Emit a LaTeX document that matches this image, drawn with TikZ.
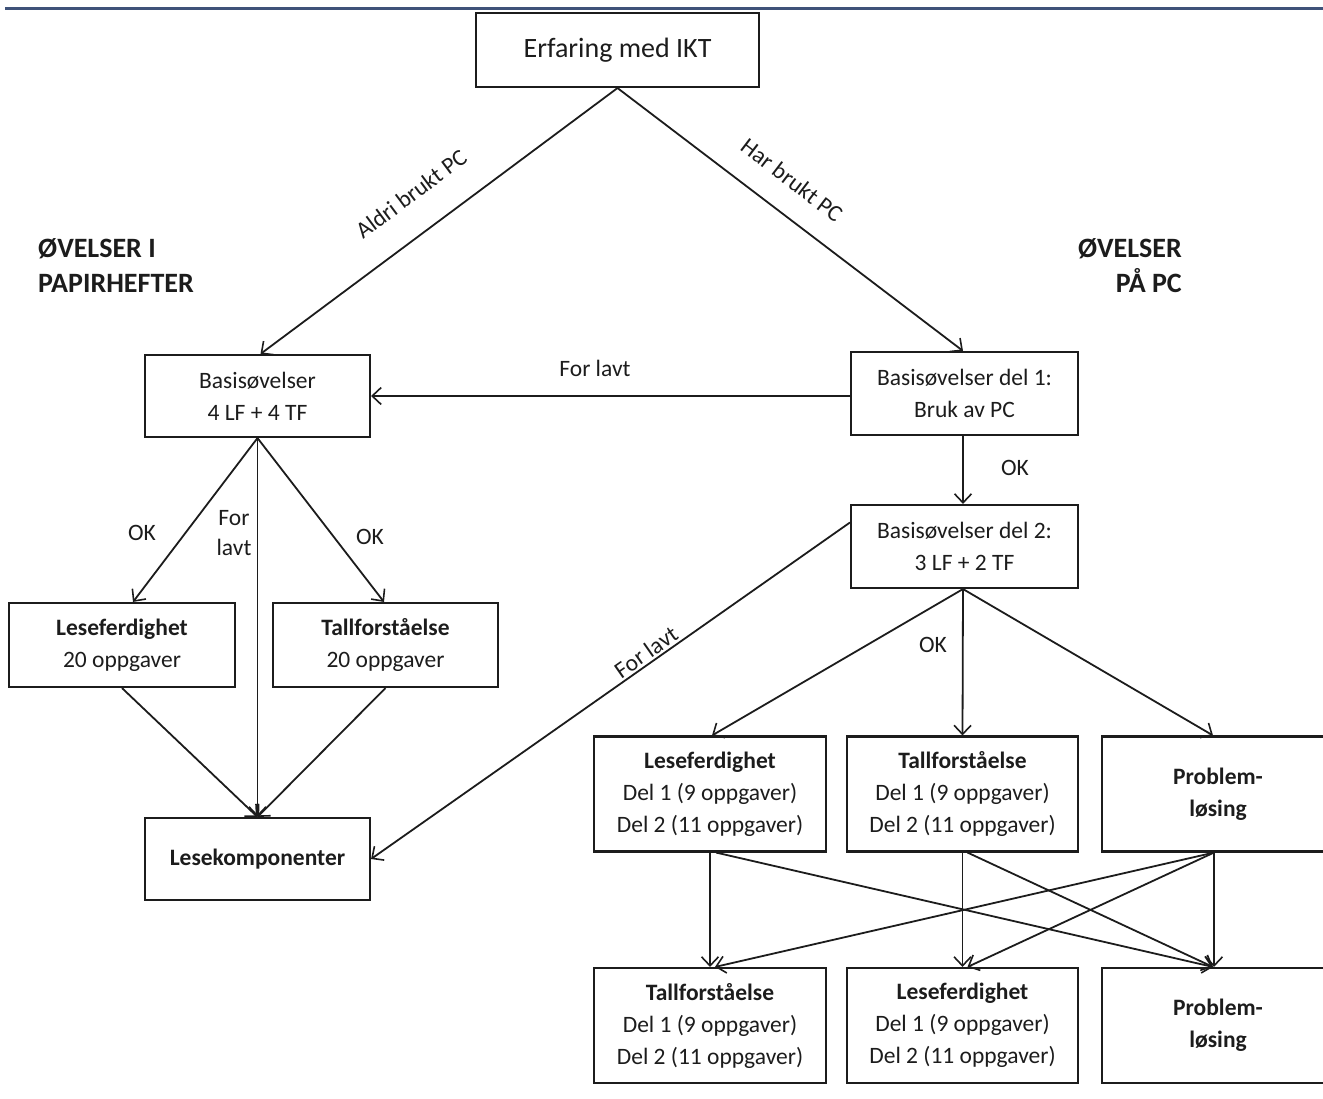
\documentclass[tikz,border=0pt]{standalone}
\usepackage{fontspec}
\setmainfont{Carlito}
\usetikzlibrary{arrows.meta}
\definecolor{hdr}{HTML}{3F5279}
\definecolor{ink}{HTML}{1C1C1C}
\begin{document}
\begin{tikzpicture}[x=1pt,y=-1pt,
  box/.style={draw=ink, line width=2.1pt, inner sep=0pt, align=center, text=ink,
              font=\fontsize{23.5}{32}\selectfont},
  wbox/.style={box, minimum width=227pt, minimum height=83pt},
  tbox/.style={box, minimum width=232pt, minimum height=115pt},
  pbox/.style={box, minimum width=298pt, minimum height=115pt},
  conn/.style={draw=ink, line width=1.8pt, -{Straight Barb[length=9pt,width=17pt,line width=1.6pt]}},
  lbl/.style={font=\fontsize{23.5}{30}\selectfont, inner sep=0pt, text=ink, align=center},
  hdrtext/.style={font=\bfseries\fontsize{28}{35}\selectfont, inner sep=0pt, text=ink}]
\useasboundingbox (0,0) rectangle (1323,1099);
\clip (0,0) rectangle (1323,1099);
% header rule
\draw[hdr, line width=3pt] (5,8.5) -- (1330,8.5);

% headings
\node[hdrtext, anchor=base west] (h1) at (38,258) {ØVELSER I};
\node[hdrtext, anchor=base west] (h2) at (38,293) {PAPIRHEFTER};
\node[hdrtext, anchor=base east] (h3) at (1182,258) {ØVELSER};
\node[hdrtext, anchor=base east] (h4) at (1182,293) {PÅ PC};

% boxes
\node[box, minimum width=283pt, minimum height=74pt, font=\fontsize{28}{34}\selectfont] (ikt) at (617.5,50) {Erfaring med IKT};
\node[wbox, minimum width=225pt, minimum height=82pt] (basL) at (257.5,396) {Basisøvelser\\4 LF + 4 TF};
\node[wbox] (bas1) at (964.5,393.5) {Basisøvelser del 1:\\Bruk av PC};
\node[wbox] (bas2) at (964.5,546.5) {Basisøvelser del 2:\\3 LF + 2 TF};
\node[wbox, minimum width=226pt, minimum height=84pt] (lesL) at (122,645) {\textbf{Leseferdighet}\\20 oppgaver};
\node[wbox, minimum width=225pt, minimum height=84pt] (talL) at (385.5,645) {\textbf{Tallforståelse}\\20 oppgaver};
\node[wbox, minimum width=225pt, minimum height=82pt] (lkomp) at (257.5,859) {\textbf{Lesekomponenter}};

\node[tbox] (les1) at (710,794) {\textbf{Leseferdighet}\\Del 1 (9 oppgaver)\\Del 2 (11 oppgaver)};
\node[tbox, minimum width=231pt] (tal1) at (962.5,794) {\textbf{Tallforståelse}\\Del 1 (9 oppgaver)\\Del 2 (11 oppgaver)};
\node[pbox] (prob1) at (1251,794) {\begin{tabular}{@{}c@{}}\textbf{Problem-}\\\textbf{løsing}\end{tabular}\hspace*{66pt}};

\node[tbox] (tal2) at (710,1025.5) {\textbf{Tallforståelse}\\Del 1 (9 oppgaver)\\Del 2 (11 oppgaver)};
\node[tbox, minimum width=231pt] (les2) at (962.5,1025.5) {\textbf{Leseferdighet}\\Del 1 (9 oppgaver)\\Del 2 (11 oppgaver)};
\node[pbox] (prob2) at (1251,1025.5) {\begin{tabular}{@{}c@{}}\textbf{Problem-}\\\textbf{løsing}\end{tabular}\hspace*{66pt}};

% connectors
\draw[conn] (ikt.south) -- ([xshift=3pt]basL.north);
\draw[conn] (ikt.south) -- ([xshift=-1.5pt]bas1.north);
\draw[conn] (bas1.west |- basL.east) -- (basL.east);
\draw[conn] ([xshift=-1.5pt]bas1.south) -- ([xshift=-1.5pt]bas2.north);

\draw[conn] (basL.south) -- ([xshift=11pt]lesL.north);
\draw[conn] (basL.south) -- (lkomp.north);
\draw[conn] (basL.south) -- ([xshift=-1.5pt]talL.north);
\draw[conn] (lesL.south) -- (lkomp.north);
\draw[conn] (talL.south) -- (lkomp.north);

\draw[conn] ([yshift=24pt]bas2.west) -- (lkomp.east);

\draw[conn] ([xshift=-1.5pt]bas2.south) -- ([xshift=2pt]les1.north);
\draw[conn] ([xshift=-1.5pt]bas2.south) -- (tal1.north);
\draw[conn] ([xshift=-1.5pt]bas2.south) -- ([xshift=-38pt]prob1.north);

\draw[conn] (les1.south) -- (tal2.north);
\draw[conn] ([xshift=6pt]les1.south) -- ([xshift=-38pt]prob2.north);
\draw[conn] (tal1.south) -- (les2.north);
\draw[conn] ([xshift=5pt]tal1.south) -- ([xshift=-38pt]prob2.north);
\draw[conn] ([xshift=-37pt]prob1.south) -- ([xshift=-37pt]prob2.north);
\draw[conn] ([xshift=-37pt]prob1.south) -- ([xshift=5pt]tal2.north);
\draw[conn] ([xshift=-37pt]prob1.south) -- ([xshift=5pt]les2.north);

% labels
\node[lbl, rotate=36.7] (l1) at (411,194) {Aldri brukt PC};
\node[lbl, rotate=-37.4] (l2) at (792,180) {Har brukt PC};
\node[lbl] (l3) at (595,368) {For lavt};
\node[lbl] (l4) at (1015,468) {OK};
\node[lbl] (l5) at (142,533) {OK};
\node[lbl] (l6) at (234,533) {For\\lavt};
\node[lbl] (l7) at (370,537) {OK};
\node[lbl, rotate=35] (l8) at (646,652) {For lavt};
\node[lbl] (l9) at (933,645) {OK};
\end{tikzpicture}
\end{document}
